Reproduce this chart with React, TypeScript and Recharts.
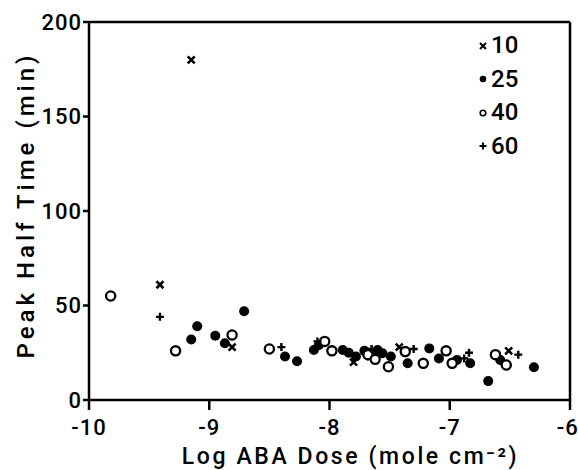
import React from 'react';
import { ScatterChart, Scatter, XAxis, YAxis, ReferenceLine } from 'recharts';

// Log ABA dose (x) and peak half time in min (y) for each group
const dose10 = [-9.15, -9.41, -8.81, -7.8, -7.42, -6.51, -7.66];
const half10 = [180, 61, 28, 20, 28, 26, 23];

const dose25 = [-9.15, -9.1, -8.95, -8.87, -8.71, -8.37, -8.27, -8.13, -8.09, -7.89, -7.84, -7.78, -7.71,
  -7.6, -7.56, -7.49, -7.35, -7.17, -7.09, -6.94, -6.83, -6.68, -6.58, -6.3];
const half25 = [32, 39, 34, 30, 47, 23, 20.5, 26.5, 29, 26.5, 25, 23, 26, 26.5, 24.7, 23, 19.4, 27.3, 22,
  21.2, 19.4, 10, 21.2, 17.3];

const dose40 = [-9.82, -9.28, -8.81, -8.5, -8.04, -7.98, -7.68, -7.62, -7.51, -7.37, -7.22, -7.03, -6.98, -6.62, -6.53];
const half40 = [55, 26, 34.4, 27, 31, 26, 24, 21.5, 17.6, 25.6, 19.4, 26, 19.4, 24, 18.5];

const dose60 = [-9.41, -8.4, -8.1, -7.65, -7.3, -6.88, -6.84, -6.43];
const half60 = [44, 28, 31, 27, 27, 22, 25, 24];

const xTicks = [-10, -9, -8, -7, -6];
const yTicks = [0, 50, 100, 150, 200];
const groups = ['10', '25', '40', '60'];

const toPoints = (xs: number[], ys: number[]) => xs.map((x, i) => ({ x, y: ys[i] }));

const font = 'Roboto, "DejaVu Sans", sans-serif';

const Cross = ({ cx, cy }: any) => {
  const s = 3.5;
  return <path d={`M${cx - s},${cy - s}L${cx + s},${cy + s}M${cx + s},${cy - s}L${cx - s},${cy + s}`} stroke="#000" strokeWidth={2.6} />;
};
const Dot = ({ cx, cy }: any) => <circle cx={cx} cy={cy} r={5} fill="#000" />;
const Ring = ({ cx, cy }: any) => <circle cx={cx} cy={cy} r={4.6} fill="#fff" stroke="#000" strokeWidth={2.3} />;
const Plus = ({ cx, cy }: any) => {
  const s = 4;
  return <path d={`M${cx - s},${cy}L${cx + s},${cy}M${cx},${cy - s}L${cx},${cy + s}`} stroke="#000" strokeWidth={2.4} />;
};

// small legend glyphs, like the printed key
const keySymbols = [
  <path d="M2,2L8,8M8,2L2,8" stroke="#000" strokeWidth={2} />,
  <circle cx={5} cy={5} r={3.3} fill="#000" />,
  <circle cx={5} cy={5} r={2.8} fill="none" stroke="#000" strokeWidth={1.6} />,
  <path d="M1.5,5L8.5,5M5,1.5L5,8.5" stroke="#000" strokeWidth={2} />,
];

const LegendBox = () => (
  <div style={{ position: 'absolute', left: 478, top: 29, fontFamily: font, fontWeight: 500, fontSize: 24, color: '#000', lineHeight: '33.5px' }}>
    {groups.map((g, i) => (
      <div key={g} style={{ display: 'flex', alignItems: 'center' }}>
        <svg width={12} height={10} style={{ marginRight: 1 }}>{keySymbols[i]}</svg>
        {g}
      </div>
    ))}
  </div>
);

export default function App() {
  const tick = { fill: '#000', fontSize: 22, fontFamily: font, fontWeight: 500, letterSpacing: 1 };
  return (
    <div style={{ position: 'absolute', left: 0, top: 0, width: 578, height: 470, background: '#fff' }}>
      <ScatterChart width={578} height={470} margin={{ top: 22, right: 8, bottom: 0, left: 0 }}>
        <XAxis
          type="number"
          dataKey="x"
          domain={[-10, -6]}
          ticks={xTicks}
          allowDataOverflow
          height={70}
          stroke="#000"
          strokeWidth={2.5}
          tickSize={10}
          tickMargin={9}
          tick={tick}
          label={{ value: 'Log ABA Dose (mole cm⁻²)', position: 'insideBottom', offset: 6, dx: 21, style: { fill: '#000', fontSize: 23, fontFamily: font, fontWeight: 500, letterSpacing: 2.6 } }}
        />
        <YAxis
          type="number"
          dataKey="y"
          domain={[0, 200]}
          ticks={yTicks}
          width={89}
          stroke="#000"
          strokeWidth={2.5}
          tickSize={6}
          tickMargin={1}
          tick={tick}
          label={{ value: 'Peak Half Time (min)', angle: -90, position: 'center', dx: -19, dy: -6, style: { fill: '#000', fontSize: 24, fontFamily: font, fontWeight: 500, letterSpacing: 4, textAnchor: 'middle' } }}
        />
        <ReferenceLine y={200} stroke="#000" strokeWidth={2.5} />
        <ReferenceLine x={-6} stroke="#000" strokeWidth={2.5} />
        <Scatter name={groups[0]} data={toPoints(dose10, half10)} shape={<Cross />} isAnimationActive={false} />
        <Scatter name={groups[1]} data={toPoints(dose25, half25)} shape={<Dot />} isAnimationActive={false} />
        <Scatter name={groups[2]} data={toPoints(dose40, half40)} shape={<Ring />} isAnimationActive={false} />
        <Scatter name={groups[3]} data={toPoints(dose60, half60)} shape={<Plus />} isAnimationActive={false} />
      </ScatterChart>
      <LegendBox />
    </div>
  );
}
